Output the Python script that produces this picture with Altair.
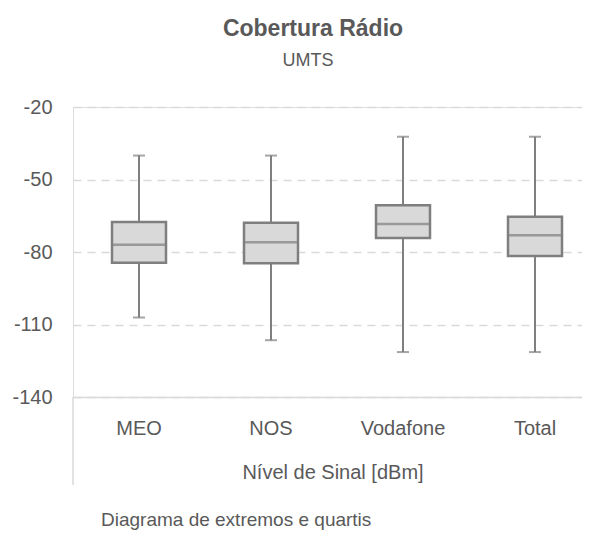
import altair as alt
import pandas as pd

# Values (dBm)
categories = ["MEO", "NOS", "Vodafone", "Total"]
minimum = [-107.1, -116.5, -121.4, -121.4]
q1 = [-84.4, -84.7, -74.2, -81.7]
median = [-77.0, -76.0, -68.4, -73.1]
q3 = [-67.6, -67.9, -60.7, -65.4]
maximum = [-40.1, -40.1, -32.3, -32.3]
y_ticks = [-140, -110, -80, -50, -20]

title_text = "Cobertura Rádio"
subtitle_text = "UMTS"
x_title = "Nível de Sinal [dBm]"
footer_text = "Diagrama de extremos e quartis"

df = pd.DataFrame({
    "cat": categories, "min": minimum, "q1": q1,
    "median": median, "q3": q3, "max": maximum,
})

W, H = 509, 290
FONT = "Liberation Sans"
TXT = "#595959"
BOX_STROKE = "#7f7f7f"
BOX_FILL = "#d9d9d9"

x_enc = alt.X("cat:N", sort=categories, title=None,
              scale=alt.Scale(range=[0, 528], paddingInner=0, paddingOuter=0))
y_enc = alt.Y("min:Q", title=None,
              scale=alt.Scale(domain=[-140, -20], nice=False, zero=False),
              axis=alt.Axis(values=y_ticks, labelExpr="datum.value + ''",
                            domain=False, ticks=False))

base = alt.Chart(df)

whisker = base.mark_rule(color=BOX_STROKE, strokeWidth=2).encode(
    x=x_enc, y=y_enc, y2="max:Q")
box = base.mark_bar(size=54, fill=BOX_FILL, stroke=BOX_STROKE, strokeWidth=2.5).encode(
    x=x_enc, y=alt.Y("q1:Q"), y2="q3:Q")
med = base.mark_tick(size=54, thickness=2.5, color=BOX_STROKE).encode(
    x=x_enc, y="median:Q")
cap_lo = base.mark_tick(size=12, thickness=2, color=BOX_STROKE).encode(
    x=x_enc, y="min:Q")
cap_hi = base.mark_tick(size=12, thickness=2, color=BOX_STROKE).encode(
    x=x_enc, y="max:Q")

def label(text, x, y, size, bold=False, align="center"):
    return alt.Chart(pd.DataFrame({"t": [text]})).mark_text(
        font=FONT, fontSize=size, fontWeight="bold" if bold else "normal",
        color=TXT, align=align, baseline="middle",
    ).encode(text="t:N", x=alt.value(x), y=alt.value(y))

title = label(title_text, 240, -78, 23, bold=True)
subtitle = label(subtitle_text, 235, -46, 18)
xtitle = label(x_title, 260, 366, 20)
footer = label(footer_text, 28, 413, 19, align="left")

vline = alt.Chart(pd.DataFrame({"a": [0]})).mark_rule(color="#d9d9d9", strokeWidth=1.5).encode(
    x=alt.value(0), y=alt.value(H), y2=alt.value(H + 88))

chart = alt.layer(whisker, box, med, cap_lo, cap_hi, title, subtitle, xtitle, footer, vline).properties(
    width=W, height=H,
    autosize=alt.AutoSizeParams(type="none"),
    padding={"left": 65, "top": 99, "right": 0, "bottom": 136},
).configure_view(strokeWidth=0, stroke="transparent").configure(background="white").configure_axisY(
    ticks=False, domain=False, grid=True, gridColor="#d9d9d9", gridDash=[8, 6],
    gridWidth=1.3, labelColor=TXT, labelFont=FONT, labelFontSize=20,
    labelPadding=21, labelBaseline="middle",
).configure_axisX(
    ticks=False, grid=False, domainColor="#d9d9d9", domainWidth=1.5,
    labelColor=TXT, labelFont=FONT, labelFontSize=20, labelAngle=0,
    labelBaseline="middle", labelPadding=31,
)

chart.save("out.html", embed_options={"renderer": "svg", "actions": False})
